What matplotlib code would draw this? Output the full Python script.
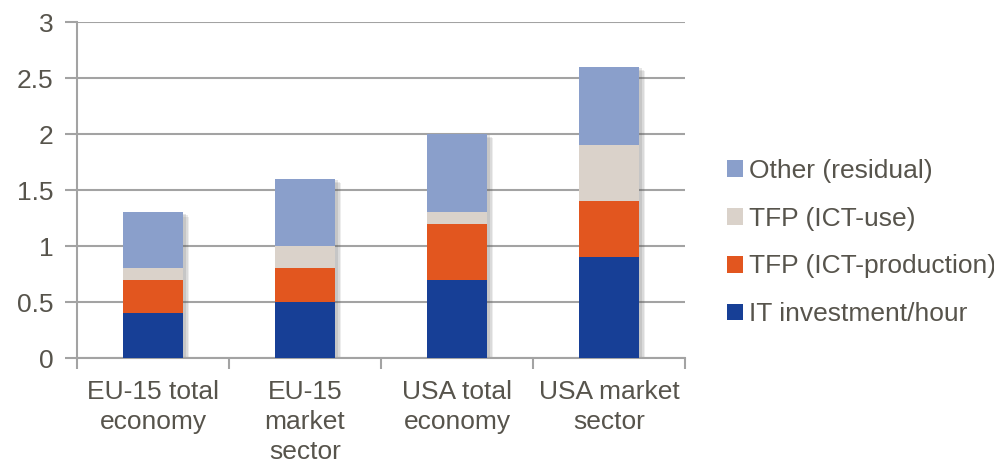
import matplotlib
matplotlib.use("Agg")
import matplotlib.pyplot as plt
import matplotlib.patheffects as pe
import numpy as np

categories = ["EU-15 total\neconomy", "EU-15\nmarket\nsector", "USA total\neconomy", "USA market\nsector"]
it_invest = [0.4, 0.5, 0.7, 0.9]
tfp_prod = [0.3, 0.3, 0.5, 0.5]
tfp_use = [0.1, 0.2, 0.1, 0.5]
other = [0.5, 0.6, 0.7, 0.7]

series = [
    ("IT investment/hour", it_invest, "#173f96"),
    ("TFP (ICT-production)", tfp_prod, "#e2561f"),
    ("TFP (ICT-use)", tfp_use, "#dad2ca"),
    ("Other (residual)", other, "#8a9fcb"),
]

plt.rcParams['font.family'] = ['Liberation Sans', 'DejaVu Sans']
txt = "#57544c"
grid = "#a3a3a3"
fs = 19

fig = plt.figure(figsize=(9.95, 4.63), dpi=100)
ax = fig.add_axes([77/995, 1-358/463, (685-77)/995, (358-22)/463])

x = np.arange(len(categories))
totals = np.sum([s[1] for s in series], axis=0)
# soft shadow behind each stack
for off, a in [((4, -3), 0.10), ((3, -2), 0.12), ((2, -1), 0.15)]:
    ax.bar(x, totals, 0.4, color="white", zorder=2,
           path_effects=[pe.SimplePatchShadow(offset=off, shadow_rgbFace="#555555", alpha=a), pe.Normal()])

bottom = np.zeros(len(categories))
handles = []
for name, vals, col in series:
    b = ax.bar(x, vals, 0.4, bottom=bottom, color=col, label=name, zorder=3)
    handles.append(b)
    bottom += np.array(vals)

ax.set_ylim(0, 3)
ax.set_xlim(-0.5, 3.5)
ax.set_yticks(np.arange(0, 3.01, 0.5))
ax.set_yticklabels(["0", "0.5", "1", "1.5", "2", "2.5", "3"])
ax.yaxis.grid(True, color=grid, linewidth=1.5, zorder=0)
ax.set_axisbelow(True)

ax.set_xticks([-0.5, 0.5, 1.5, 2.5, 3.5])
ax.set_xticklabels([])
ax.set_xticks(x, minor=True)
ax.set_xticklabels(categories, minor=True, fontsize=fs, color=txt, va="top", linespacing=1.32)
ax.tick_params(axis="x", which="minor", length=0, pad=16)
ax.tick_params(axis="x", which="major", length=8, width=1.5, color=grid, direction="out")
ax.tick_params(axis="y", length=9, width=1.5, color=grid, labelsize=fs, labelcolor=txt, pad=8)

for s in ["top", "right"]:
    ax.spines[s].set_visible(False)
for s in ["left", "bottom"]:
    ax.spines[s].set_color(grid)
    ax.spines[s].set_linewidth(1.5)

leg = fig.legend(handles[::-1], [s[0] for s in series][::-1], loc="upper left",
                 bbox_to_anchor=(727/995, 1-159/463), frameon=False, fontsize=fs,
                 labelcolor=txt, handlelength=0.6, handleheight=0.6, handletextpad=0.25,
                 labelspacing=0.9, borderpad=0, borderaxespad=0)

fig.savefig("out.png", dpi=100)
